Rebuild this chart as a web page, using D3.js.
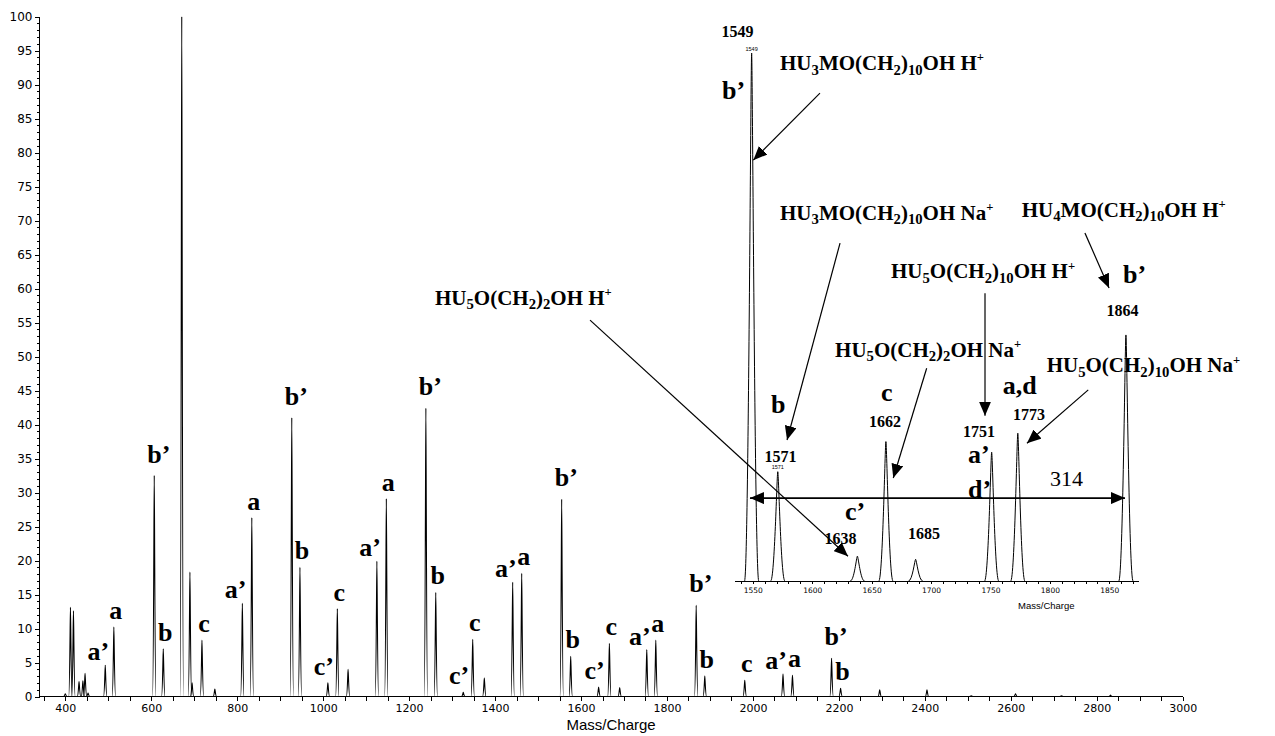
<!DOCTYPE html>
<html>
<meta charset="utf-8">
<style>
body { margin: 0; background: #fff; }
.axis path, .axis line { fill: none; stroke: #000; shape-rendering: crispEdges; }
.axis text { font-family: "DejaVu Sans", sans-serif; fill: #000; }
.peak { fill: none; stroke: #000; stroke-width: 1.1; }
.lab { font-family: "Liberation Serif", "Times New Roman", serif; font-weight: bold; fill: #000; }
.arrow { stroke: #000; stroke-width: 1.2; fill: none; }
</style>
<body>
<script src="https://d3js.org/d3.v7.min.js"></script>
<script>
// main spectrum: peak m/z and relative intensity (%)
var peakMass = [400, 412, 419, 432, 441, 446, 453, 493, 513, 607, 628, 671, 690, 695, 718, 748,
  812, 834, 927, 946, 1011, 1033, 1058, 1125, 1147, 1239, 1262, 1326, 1348, 1375, 1441, 1462,
  1555, 1576, 1641, 1666, 1690, 1753, 1774, 1868, 1888, 1981, 2070, 2092, 2183, 2204, 2295,
  2405, 2508, 2611, 2718, 2832];
var peakInt = [0.4, 13.1, 12.6, 2.2, 2.3, 3.4, 0.5, 4.6, 10.2, 32.5, 7.0, 100, 18.3, 2.0, 8.3, 1.1,
  13.7, 26.3, 41.0, 19.0, 2.0, 12.9, 4.0, 19.9, 29.1, 42.4, 15.3, 0.6, 8.4, 2.7, 16.8, 18.1,
  29.0, 5.9, 1.4, 7.8, 1.3, 6.9, 8.3, 13.4, 3.0, 2.4, 3.3, 3.1, 5.6, 1.2, 1.0,
  1.0, 0.1, 0.4, 0.1, 0.2];

// series letters over the main peaks
var labelText = ["a’", "a", "b’", "b", "c", "a’", "a", "b’", "b", "c’", "c", "a’", "a", "b’", "b",
  "c’", "c", "a’", "a", "b’", "b", "c’", "c", "a’", "a", "b’", "b", "c", "a’", "a", "b’", "b"];
var labelMass = [493, 513, 607, 628, 718, 812, 834, 927, 946, 1011, 1033, 1125, 1147, 1239, 1262,
  1326, 1348, 1441, 1462, 1555, 1576, 1641, 1666, 1753, 1774, 1868, 1888, 1981, 2070, 2092, 2183, 2204];

// inset (1535-1875), intensity relative to 1549
var insetMass = [1549, 1571, 1638, 1662, 1687, 1751, 1773, 1864];
var insetInt = [100, 20.7, 4.7, 26.4, 4.1, 24.4, 28.0, 46.6];

var xTicks = d3.range(400, 3001, 200);
var yTicks = d3.range(0, 101, 5);
var insetTicks = d3.range(1550, 1851, 50);

var svg = d3.select("body").append("svg")
    .attr("width", 1275)
    .attr("height", 736);

var defs = svg.append("defs");
defs.append("marker")
    .attr("id", "head")
    .attr("markerUnits", "userSpaceOnUse")
    .attr("viewBox", "0 0 14 12")
    .attr("refX", 14).attr("refY", 6)
    .attr("markerWidth", 14).attr("markerHeight", 12)
    .attr("orient", "auto-start-reverse")
  .append("path")
    .attr("d", "M0,0L14,6L0,12Z")
    .style("fill", "#000");

// ---- main chart ----
var x = d3.scaleLinear().domain([340, 3000]).range([39.5, 1182.7]);
var y = d3.scaleLinear().domain([0, 100]).range([696.5, 16.5]);

svg.append("g")
    .attr("class", "axis")
    .attr("transform", "translate(0," + y(0) + ")")
    .call(d3.axisBottom(x).tickValues(d3.range(350, 3001, 50)).tickSize(4).tickFormat(""))
    .call(function(g) { g.select(".domain").attr("d", "M" + x(340) + ",0H" + x(3000)); });

svg.append("g")
    .attr("class", "axis")
    .attr("transform", "translate(0," + y(0) + ")")
    .call(d3.axisBottom(x).tickValues(xTicks).tickSize(4).tickPadding(4).tickFormat(d3.format("d")))
    .call(function(g) { g.select(".domain").remove(); })
    .selectAll("text").style("font-size", "11px");

svg.append("g")
    .attr("class", "axis")
    .attr("transform", "translate(" + x(340) + ",0)")
    .call(d3.axisLeft(y).tickValues(d3.range(0, 101, 1)).tickSize(2.5).tickFormat(""))
    .call(function(g) { g.select(".domain").attr("d", "M0," + y(0) + "V" + y(100)); });

svg.append("g")
    .attr("class", "axis")
    .attr("transform", "translate(" + x(340) + ",0)")
    .call(d3.axisLeft(y).tickValues(yTicks).tickSize(5).tickPadding(2).tickFormat(d3.format("d")))
    .call(function(g) { g.select(".domain").remove(); })
    .selectAll("text").style("font-size", "12px");

svg.append("text")
    .attr("x", (x(340) + x(3000)) / 2)
    .attr("y", 730)
    .attr("text-anchor", "middle")
    .style("font-family", "'Liberation Sans', Arial, sans-serif")
    .style("font-size", "15px")
    .text("Mass/Charge");

// bell shaped peak outline
function peakPath(xs, ys, m, h, hw) {
  var x0 = xs(m - hw), x1 = xs(m), x2 = xs(m + hw), yb = ys(0), yt = ys(h);
  var w = x1 - x0;
  return "M" + x0 + "," + yb +
    "C" + (x1 - w * 0.45) + "," + yb + " " + (x1 - w * 0.12) + "," + yt + " " + x1 + "," + yt +
    "C" + (x1 + w * 0.12) + "," + yt + " " + (x1 + w * 0.45) + "," + yb + " " + x2 + "," + yb;
}

var mainPeaks = peakMass.map(function(m, i) { return {m: m, h: peakInt[i]}; });
svg.append("g").selectAll("path")
    .data(mainPeaks)
  .enter().append("path")
    .attr("class", "peak")
    .attr("d", function(d) { return peakPath(x, y, d.m, d.h, 4); });

function labelStyle(t) {
  if (t === "a’") return {anchor: "end", dx: 4, gap: 5};
  if (t === "c’") return {anchor: "end", dx: 6, gap: 8};
  if (t === "b’") return {anchor: "start", dx: -7, gap: 13};
  return {anchor: "middle", dx: 2, gap: 8};
}

var mainLabels = labelText.map(function(t, i) {
  var k = peakMass.indexOf(labelMass[i]);
  return {t: t, m: labelMass[i], h: peakInt[k]};
});
svg.append("g").selectAll("text")
    .data(mainLabels)
  .enter().append("text")
    .attr("class", "lab")
    .style("font-size", "26px")
    .attr("x", function(d) { return x(d.m) + labelStyle(d.t).dx; })
    .attr("y", function(d) { return y(d.h) - labelStyle(d.t).gap; })
    .attr("text-anchor", function(d) { return labelStyle(d.t).anchor; })
    .text(function(d) { return d.t; });

// ---- inset ----
var xi = d3.scaleLinear().domain([1535, 1875]).range([735, 1139]);
var yi = d3.scaleLinear().domain([0, 100]).range([581, 53]);

svg.append("g")
    .attr("class", "axis")
    .attr("transform", "translate(0," + yi(0) + ")")
    .call(d3.axisBottom(xi).tickValues(d3.range(1540, 1871, 10)).tickSize(3).tickFormat(""))
    .call(function(g) { g.select(".domain").attr("d", "M" + xi(1535) + ",0H" + xi(1875)); });

svg.append("g")
    .attr("class", "axis")
    .attr("transform", "translate(0," + yi(0) + ")")
    .call(d3.axisBottom(xi).tickValues(insetTicks).tickSize(3).tickPadding(4).tickFormat(d3.format("d")))
    .call(function(g) { g.select(".domain").remove(); })
    .selectAll("text").style("font-size", "7.5px");

svg.append("text")
    .attr("x", xi(1797))
    .attr("y", yi(0) + 28)
    .attr("text-anchor", "middle")
    .style("font-family", "'Liberation Sans', Arial, sans-serif")
    .style("font-size", "9.5px")
    .text("Mass/Charge");

var insetPeaks = insetMass.map(function(m, i) { return {m: m, h: insetInt[i]}; });
svg.append("g").selectAll("path")
    .data(insetPeaks)
  .enter().append("path")
    .attr("class", "peak")
    .style("stroke-width", 1)
    .attr("d", function(d) { return peakPath(xi, yi, d.m, d.h, 6); });

// tiny instrument labels on the peaks
svg.append("g").selectAll("text")
    .data([1549, 1571])
  .enter().append("text")
    .attr("x", function(d) { return xi(d); })
    .attr("y", function(d) { return yi(insetInt[insetMass.indexOf(d)]) - 2.5; })
    .attr("text-anchor", "middle")
    .style("font-family", "'Liberation Sans', Arial, sans-serif")
    .style("font-size", "5.5px")
    .text(function(d) { return d; });

// annotations, placed in inset coordinates
// "_n" -> subscript, "^+" -> superscript
var notes = [
  {t: "1549", m: 1537, v: 103.1, s: 16, a: "middle"},
  {t: "b’", m: 1524, v: 91.2, s: 26, a: "start"},
  {t: "HU_3MO(CH_2)_10OH H^+", m: 1572.9, v: 96.8, s: 21, a: "start"},
  {t: "HU_3MO(CH_2)_10OH Na^+", m: 1572.9, v: 68.4, s: 21, a: "start"},
  {t: "HU_4MO(CH_2)_10OH H^+", m: 1776.3, v: 69.0, s: 21, a: "start"},
  {t: "b’", m: 1861.5, v: 56.5, s: 26, a: "start"},
  {t: "1864", m: 1861.1, v: 50.1, s: 16, a: "middle"},
  {t: "HU_5O(CH_2)_10OH H^+", m: 1666.3, v: 57.3, s: 21, a: "start"},
  {t: "HU_5O(CH_2)_2OH Na^+", m: 1619.2, v: 42.5, s: 21, a: "start"},
  {t: "HU_5O(CH_2)_10OH Na^+", m: 1797.3, v: 39.6, s: 21, a: "start"},
  {t: "a,d", m: 1760.3, v: 35.5, s: 26, a: "start"},
  {t: "1773", m: 1782.4, v: 30.5, s: 16, a: "middle"},
  {t: "c", m: 1662.7, v: 34.0, s: 26, a: "middle"},
  {t: "1662", m: 1661.2, v: 29.2, s: 16, a: "middle"},
  {t: "b", m: 1571.4, v: 31.9, s: 26, a: "middle"},
  {t: "1571", m: 1573.3, v: 22.6, s: 16, a: "middle"},
  {t: "1751", m: 1740.3, v: 27.2, s: 16, a: "middle"},
  {t: "a’", m: 1731.1, v: 22.3, s: 26, a: "start"},
  {t: "d’", m: 1731.1, v: 15.7, s: 26, a: "start"},
  {t: "c’", m: 1627.6, v: 11.6, s: 26, a: "start"},
  {t: "1638", m: 1623.8, v: 7.1, s: 16, a: "middle"},
  {t: "1685", m: 1694.1, v: 8.0, s: 16, a: "middle"},
  {t: "HU_5O(CH_2)_2OH H^+", m: 1282.5, v: 52.3, s: 21, a: "start"}
];

function addFormula(sel, str, size) {
  var parts = str.match(/_\d+|\^\+|[^_^]+/g);
  var shift = 0;
  parts.forEach(function(p) {
    var ts = sel.append("tspan");
    var target = 0, txt = p, fs = size;
    if (p[0] === "_") { target = size * 0.22; txt = p.slice(1); fs = size * 0.7; }
    else if (p[0] === "^") { target = -size * 0.4; txt = p.slice(1); fs = size * 0.6; }
    ts.attr("dy", target - shift).style("font-size", fs + "px").text(txt);
    shift = target;
  });
}

svg.append("g").selectAll("text")
    .data(notes)
  .enter().append("text")
    .attr("class", "lab")
    .attr("x", function(d) { return xi(d.m); })
    .attr("y", function(d) { return yi(d.v); })
    .attr("text-anchor", function(d) { return d.a; })
    .each(function(d) { addFormula(d3.select(this), d.t, d.s); });

svg.append("text")
    .attr("x", xi(1800.1))
    .attr("y", yi(17.9))
    .style("font-family", "'Liberation Serif', 'Times New Roman', serif")
    .style("font-size", "22px")
    .text("314");

var arrows = [
  [[1606.5, 92.4], [1550.4, 79.7]],
  [[1623.4, 64.0], [1578.8, 26.7]],
  [[1829.5, 65.9], [1849.8, 55.5]],
  [[1745.4, 54.5], [1745.4, 31.3]],
  [[1696.3, 40.3], [1668.2, 19.5]],
  [[1832.3, 36.2], [1780.7, 26.1]],
  [[1413.0, 49.4], [1630.1, 4.7]]
];
svg.append("g").selectAll("line")
    .data(arrows)
  .enter().append("line")
    .attr("class", "arrow")
    .attr("x1", function(d) { return xi(d[0][0]); })
    .attr("y1", function(d) { return yi(d[0][1]); })
    .attr("x2", function(d) { return xi(d[1][0]); })
    .attr("y2", function(d) { return yi(d[1][1]); })
    .attr("marker-end", "url(#head)");

// 1549 -> 1864 spacing
svg.append("line")
    .attr("class", "arrow")
    .style("stroke-width", 1.6)
    .attr("x1", xi(1547.6)).attr("y1", yi(15.7))
    .attr("x2", xi(1863.2)).attr("y2", yi(15.7))
    .attr("marker-start", "url(#head)")
    .attr("marker-end", "url(#head)");
</script>
</body>
</html>
